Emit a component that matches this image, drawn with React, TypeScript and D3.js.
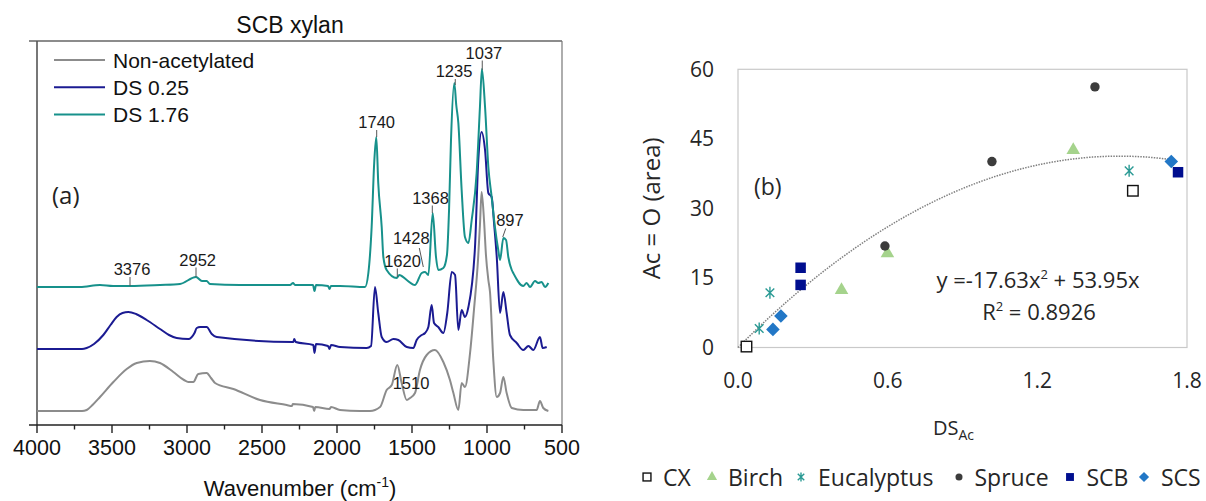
import React from 'react';
import * as d3 from 'd3';

// ---------------- Panel (a): FTIR spectra of SCB xylan ----------------
const SERIES_NAMES = ['Non-acetylated', 'DS 0.25', 'DS 1.76'];
const SERIES_COLORS = ['#8c8c8c', '#1b1b92', '#17918b'];

// [wavenumber (cm-1), absorbance (a.u., offset)]
const SPEC_NON: [number, number][] = [
  [4000, 14], [3700, 14], [3669, 15], [3630, 20], [3580, 28], [3491, 43], [3402, 56], [3335, 62], [3247, 64], [3180, 62],
  [3091, 53], [3020, 45], [2991, 43], [2958, 43], [2925, 51], [2869, 52], [2840, 47], [2813, 42], [2691, 36], [2513, 25],
  [2335, 20], [2300, 19], [2295, 21], [2160, 18], [2152, 14], [2145, 18], [2050, 16], [2040, 18], [1980, 15],
  [1847, 14], [1780, 14], [1713, 18], [1669, 35], [1635, 40], [1598, 60], [1569, 42], [1535, 25],
  [1513, 27], [1480, 32], [1447, 55], [1402, 70], [1347, 75], [1291, 63], [1247, 45], [1224, 32],
  [1191, 15], [1169, 42], [1147, 38], [1113, 72], [1087, 115], [1060, 165], [1047, 200], [1036, 233],
  [1020, 205], [1007, 170], [991, 145], [980, 133], [958, 65], [935, 28], [913, 32], [891, 48],
  [869, 32], [835, 17], [758, 15], [669, 15], [647, 24], [625, 17], [591, 14],
];

const SPEC_DS025: [number, number][] = [
  [4000, 76], [3700, 76], [3669, 77], [3620, 81], [3558, 90], [3510, 100], [3469, 108], [3430, 112], [3391, 113],
  [3340, 111], [3269, 105], [3180, 96], [3120, 90], [3069, 87],
  [2991, 86], [2950, 92], [2935, 97], [2913, 98], [2869, 98], [2835, 91], [2802, 88], [2291, 83], [2285, 86],
  [2275, 83], [2158, 80], [2150, 72], [2140, 81], [2060, 79], [2050, 76], [2040, 80], [1980, 78],
  [1802, 77], [1773, 79], [1747, 138], [1725, 112], [1702, 88], [1669, 83], [1624, 86], [1591, 85],
  [1535, 78], [1491, 77], [1469, 85], [1435, 90], [1413, 92], [1391, 98], [1369, 120], [1353, 102],
  [1325, 98], [1291, 92], [1265, 112], [1235, 153], [1213, 150], [1191, 95], [1169, 115], [1147, 108],
  [1124, 118], [1080, 178], [1058, 265], [1036, 293], [1013, 275], [991, 232], [969, 228], [953, 202],
  [935, 168], [913, 112], [891, 133], [869, 112], [847, 90], [802, 82], [758, 75], [724, 79],
  [691, 75], [647, 88], [629, 77], [602, 78],
];

const SPEC_DS176: [number, number][] = [
  [4000, 138], [3713, 138], [3580, 140], [3493, 139], [3380, 139], [3180, 140], [3047, 141], [2940, 148],
  [2900, 144], [2869, 144], [2847, 141], [2647, 140], [2313, 140], [2293, 142], [2280, 140], [2160, 140],
  [2150, 134], [2140, 140], [2060, 139], [2050, 136], [2040, 139], [1980, 139], [1813, 138], [1791, 152],
  [1769, 198], [1752, 262], [1738, 288], [1725, 242], [1702, 198], [1691, 168], [1669, 155], [1602, 147],
  [1585, 150], [1569, 149], [1535, 145], [1480, 140], [1435, 152], [1413, 153], [1391, 150], [1362, 212],
  [1340, 168], [1325, 155], [1291, 157], [1267, 170], [1253, 215], [1240, 285], [1218, 342], [1205, 320],
  [1191, 302], [1169, 235], [1147, 188], [1124, 182], [1102, 205], [1069, 252], [1047, 318], [1034, 356],
  [1013, 318], [991, 258], [969, 228], [947, 198], [925, 175], [913, 165], [891, 187], [873, 185],
  [858, 168], [835, 155], [825, 152], [758, 139], [736, 142], [713, 138], [680, 144], [658, 142],
  [636, 143], [613, 138], [591, 142],
];

const SPECTRA = [SPEC_NON, SPEC_DS025, SPEC_DS176];

const PEAK_WN = [3376, 2952, 1740, 1620, 1428, 1368, 1235, 1037, 897, 1510];
const X_TICKS_A = [4000, 3500, 3000, 2500, 2000, 1500, 1000, 500];

// ---------------- Panel (b): Ac=O area vs DS ----------------
const CATEGORIES = ['CX', 'Birch', 'Eucalyptus', 'Spruce', 'SCB', 'SCS'];
const CX_DS = [0.034, 1.583];
const CX_AREA = [0.2, 33.8];
const BIRCH_DS = [0.415, 0.599, 1.344];
const BIRCH_AREA = [12.4, 20.3, 42.6];
const EUCA_DS = [0.085, 0.128, 1.568];
const EUCA_AREA = [4.1, 11.8, 38.1];
const SPRUCE_DS = [0.589, 1.018, 1.431];
const SPRUCE_AREA = [21.9, 40.1, 56.2];
const SCB_DS = [0.251, 0.251, 1.764];
const SCB_AREA = [17.2, 13.5, 37.8];
const SCS_DS = [0.14, 0.172, 1.737];
const SCS_AREA = [3.9, 6.8, 40.1];
const FIT_A = -17.63;
const FIT_B = 53.95;
const FIT_R2 = 0.8926;
const FIT_XMAX = 1.74;
const X_TICKS_B = [0, 0.6, 1.2, 1.8];
const Y_TICKS_B = [0, 15, 30, 45, 60];

// ---------------- layout / style ----------------
const W = 1206;
const H = 501;
const A = { left: 37, right: 562, top: 41, bottom: 425 };
const B = { left: 738, right: 1187, top: 69.3, bottom: 347.5 };

// label layout for peak annotations (dx from peak, text baseline, leader line)
const PEAK_LAYOUT: Record<number, { dx: number; ty: number; line?: [number, number, number, number] }> = {
  3376: { dx: 1.4, ty: 275, line: [-0.6, 277, -0.6, 286] },
  2952: { dx: 3.5, ty: 265.7, line: [1.8, 267.5, 1.8, 277] },
  1740: { dx: 0.7, ty: 128.3, line: [0.7, 130, 0.7, 137] },
  1620: { dx: 8.5, ty: 266.7, line: [3.3, 268.5, 3.3, 277] },
  1428: { dx: -11.5, ty: 244, line: [-3.5, 248, 0.5, 267] },
  1368: { dx: -1.3, ty: 204, line: [0.5, 205.5, 0.5, 213] },
  1235: { dx: 2.25, ty: 77.3, line: [3.5, 79, 3.5, 85] },
  1037: { dx: 2.5, ty: 59, line: [0.8, 60.5, 0.8, 70] },
  897: { dx: 7.5, ty: 226, line: [3.3, 228.5, 0.3, 237] },
  1510: { dx: 0.5, ty: 389.3 },
};

const LEGEND_B = [
  { sym: 647, txt: 663 },
  { sym: 712, txt: 728 },
  { sym: 801, txt: 818 },
  { sym: 959, txt: 974.5 },
  { sym: 1070, txt: 1086.5 },
  { sym: 1144, txt: 1161 },
];

const ARIAL = '"Liberation Sans", Arial, sans-serif';
const SEGOE = '"Open Sans", "Noto Sans", sans-serif';
const TXT_B = '#262626';

function asteriskPath(r: number) {
  const d = r * 0.72;
  return `M0,${-r}L0,${r}M${-d},${-d}L${d},${d}M${-d},${d}L${d},${-d}`;
}
function diamondPath(r: number) {
  return `M0,${-r}L${r},0L0,${r}L${-r},0Z`;
}

function Marker({ cat, x, y, scale = 1 }: { cat: number; x: number; y: number; scale?: number }) {
  const t = `translate(${x},${y})`;
  switch (cat) {
    case 0: {
      const s = 10.5 * scale;
      return <rect x={x - s / 2} y={y - s / 2} width={s} height={s} fill="#fff" stroke="#111" strokeWidth={1.4} />;
    }
    case 1:
      return <path transform={t} d={d3.symbol().type(d3.symbolTriangle).size(80 * scale * scale)()!} fill="#a5d38c" />;
    case 2:
      return <path transform={t} d={asteriskPath(6 * scale)} stroke="#2a9a94" strokeWidth={1.4} fill="none" />;
    case 3:
      return <circle cx={x} cy={y} r={4.7 * scale} fill="#3c3c3c" />;
    case 4: {
      const s = 10.5 * scale;
      return <rect x={x - s / 2} y={y - s / 2} width={s} height={s} fill="#000e8f" />;
    }
    default:
      return <path transform={t} d={diamondPath(6.8 * scale)} fill="#2277c6" />;
  }
}

export default function App() {
  // Panel (a) scales
  const xA = d3.scaleLinear().domain([4000, 500]).range([A.left, A.right]);
  const yA = d3.scaleLinear().domain([0, 384]).range([A.bottom, A.top]);
  const lineA = d3
    .line<[number, number]>()
    .x((d) => xA(d[0]))
    .y((d) => yA(d[1]))
    .curve(d3.curveMonotoneX);
  const minorTicks = d3.range(4000, 499, -250);

  // Panel (b) scales
  const xB = d3.scaleLinear().domain([0, 1.8]).range([B.left, B.right]);
  const yB = d3.scaleLinear().domain([0, 60]).range([B.bottom, B.top]);
  const fitPts: [number, number][] = d3.range(0, FIT_XMAX + 1e-9, 0.01).map((x) => [x, FIT_A * x * x + FIT_B * x]);
  const fitLine = d3
    .line<[number, number]>()
    .x((d) => xB(d[0]))
    .y((d) => yB(d[1]));

  const groupsB = [
    [CX_DS, CX_AREA],
    [BIRCH_DS, BIRCH_AREA],
    [EUCA_DS, EUCA_AREA],
    [SPRUCE_DS, SPRUCE_AREA],
    [SCB_DS, SCB_AREA],
    [SCS_DS, SCS_AREA],
  ];

  return (
    <svg width={W} height={H} style={{ position: 'absolute', left: 0, top: 0, background: '#fff' }}>
      <rect x={0} y={0} width={W} height={H} fill="#fff" />
      {/* ===== Panel (a) ===== */}
      <text x={290} y={33} textAnchor="middle" fontFamily={ARIAL} fontSize={23} fill="#111">
        SCB xylan
      </text>
      {/* frame */}
      <line x1={A.left - 8} x2={A.right} y1={A.top} y2={A.top} stroke="#666" strokeWidth={1.6} />
      <line x1={A.right} x2={A.right} y1={A.top} y2={A.bottom} stroke="#777" strokeWidth={1.2} />
      <line x1={A.left} x2={A.left} y1={A.top} y2={A.bottom} stroke="#555" strokeWidth={1.6} />
      <line x1={A.left - 8} x2={A.right} y1={A.bottom} y2={A.bottom} stroke="#222" strokeWidth={1.6} />
      {minorTicks.map((t) => {
        const major = t % 500 === 0;
        return (
          <line key={t} x1={xA(t)} x2={xA(t)} y1={A.bottom} y2={A.bottom + (major ? 8 : 4.5)} stroke="#222" strokeWidth={1.4} />
        );
      })}
      {X_TICKS_A.map((t) => (
        <text key={t} x={xA(t)} y={455} textAnchor="middle" fontFamily={ARIAL} fontSize={21.5} fill="#111">
          {t}
        </text>
      ))}
      <text x={300} y={496} textAnchor="middle" fontFamily={ARIAL} fontSize={22} fill="#111">
        Wavenumber (cm
        <tspan fontSize={14} dy={-9}>
          -1
        </tspan>
        <tspan dy={9}>)</tspan>
      </text>

      {/* spectra */}
      {SPECTRA.map((s, i) => (
        <path key={i} d={lineA(s)!} fill="none" stroke={SERIES_COLORS[i]} strokeWidth={2} strokeLinejoin="round" />
      ))}

      {/* peak annotations */}
      {PEAK_WN.map((w) => {
        const L = PEAK_LAYOUT[w];
        const xs = xA(w);
        return (
          <g key={w}>
            {L.line && (
              <line x1={xs + L.line[0]} y1={L.line[1]} x2={xs + L.line[2]} y2={L.line[3]} stroke="#555" strokeWidth={1} />
            )}
            <text x={xs + L.dx} y={L.ty} textAnchor="middle" fontFamily={ARIAL} fontSize={16.5} fill="#1a1a1a">
              {w}
            </text>
          </g>
        );
      })}

      {/* legend (a) */}
      {SERIES_NAMES.map((n, i) => {
        const y = 60 + i * 27.3;
        return (
          <g key={n}>
            <line x1={54} x2={105} y1={y} y2={y} stroke={SERIES_COLORS[i]} strokeWidth={2} />
            <text x={113} y={y + 7.5} fontFamily={ARIAL} fontSize={21} fill="#111">
              {n}
            </text>
          </g>
        );
      })}
      <text x={52} y={204} fontFamily={SEGOE} fontSize={24} fill="#222">
        (a)
      </text>

      {/* ===== Panel (b) ===== */}
      <rect x={B.left} y={B.top} width={B.right - B.left} height={B.bottom - B.top} fill="none" stroke="#c9c9c9" strokeWidth={1.2} />
      {Y_TICKS_B.map((t) => (
        <text key={t} x={714} y={yB(t) + 7.5} textAnchor="end" fontFamily={SEGOE} fontSize={21} fill={TXT_B}>
          {t}
        </text>
      ))}
      {X_TICKS_B.map((t) => (
        <text key={t} x={xB(t)} y={388} textAnchor="middle" fontFamily={SEGOE} fontSize={21} fill={TXT_B}>
          {t.toFixed(1)}
        </text>
      ))}
      <text
        transform={`translate(660,${(B.top + B.bottom) / 2}) rotate(-90)`}
        textAnchor="middle"
        fontFamily={SEGOE}
        fontSize={24}
        fill={TXT_B}
      >
        Ac = O (area)
      </text>
      <text x={933} y={435} fontFamily={SEGOE} fontSize={20} fill={TXT_B}>
        DS
        <tspan fontSize={14} dy={5}>
          Ac
        </tspan>
      </text>
      <text x={754} y={195} fontFamily={SEGOE} fontSize={23} fill={TXT_B}>
        (b)
      </text>

      {/* trendline */}
      <path d={fitLine(fitPts)!} fill="none" stroke="#808080" strokeWidth={1.5} strokeDasharray="1.5,1.2" />

      {/* points */}
      {groupsB.map(([xs, ys], ci) =>
        xs.map((xv, j) => <Marker key={`${ci}-${j}`} cat={ci} x={xB(xv)} y={yB(ys[j])} />)
      )}

      {/* equation */}
      <text x={1038} y={288} textAnchor="middle" fontFamily={SEGOE} fontSize={22} fill={TXT_B}>
        y ={FIT_A.toFixed(2)}x
        <tspan fontSize={13} dy={-9}>
          2
        </tspan>
        <tspan dy={9}> + {FIT_B.toFixed(2)}x</tspan>
      </text>
      <text x={1039} y={320} textAnchor="middle" fontFamily={SEGOE} fontSize={22} fill={TXT_B}>
        R
        <tspan fontSize={13} dy={-9}>
          2
        </tspan>
        <tspan dy={9}> = {FIT_R2}</tspan>
      </text>

      {/* legend (b) */}
      {CATEGORIES.map((c, i) => (
        <g key={c}>
          <Marker cat={i} x={LEGEND_B[i].sym} y={477} scale={0.75} />
          <text x={LEGEND_B[i].txt} y={486} fontFamily={SEGOE} fontSize={23} fill={TXT_B}>
            {c}
          </text>
        </g>
      ))}
    </svg>
  );
}
